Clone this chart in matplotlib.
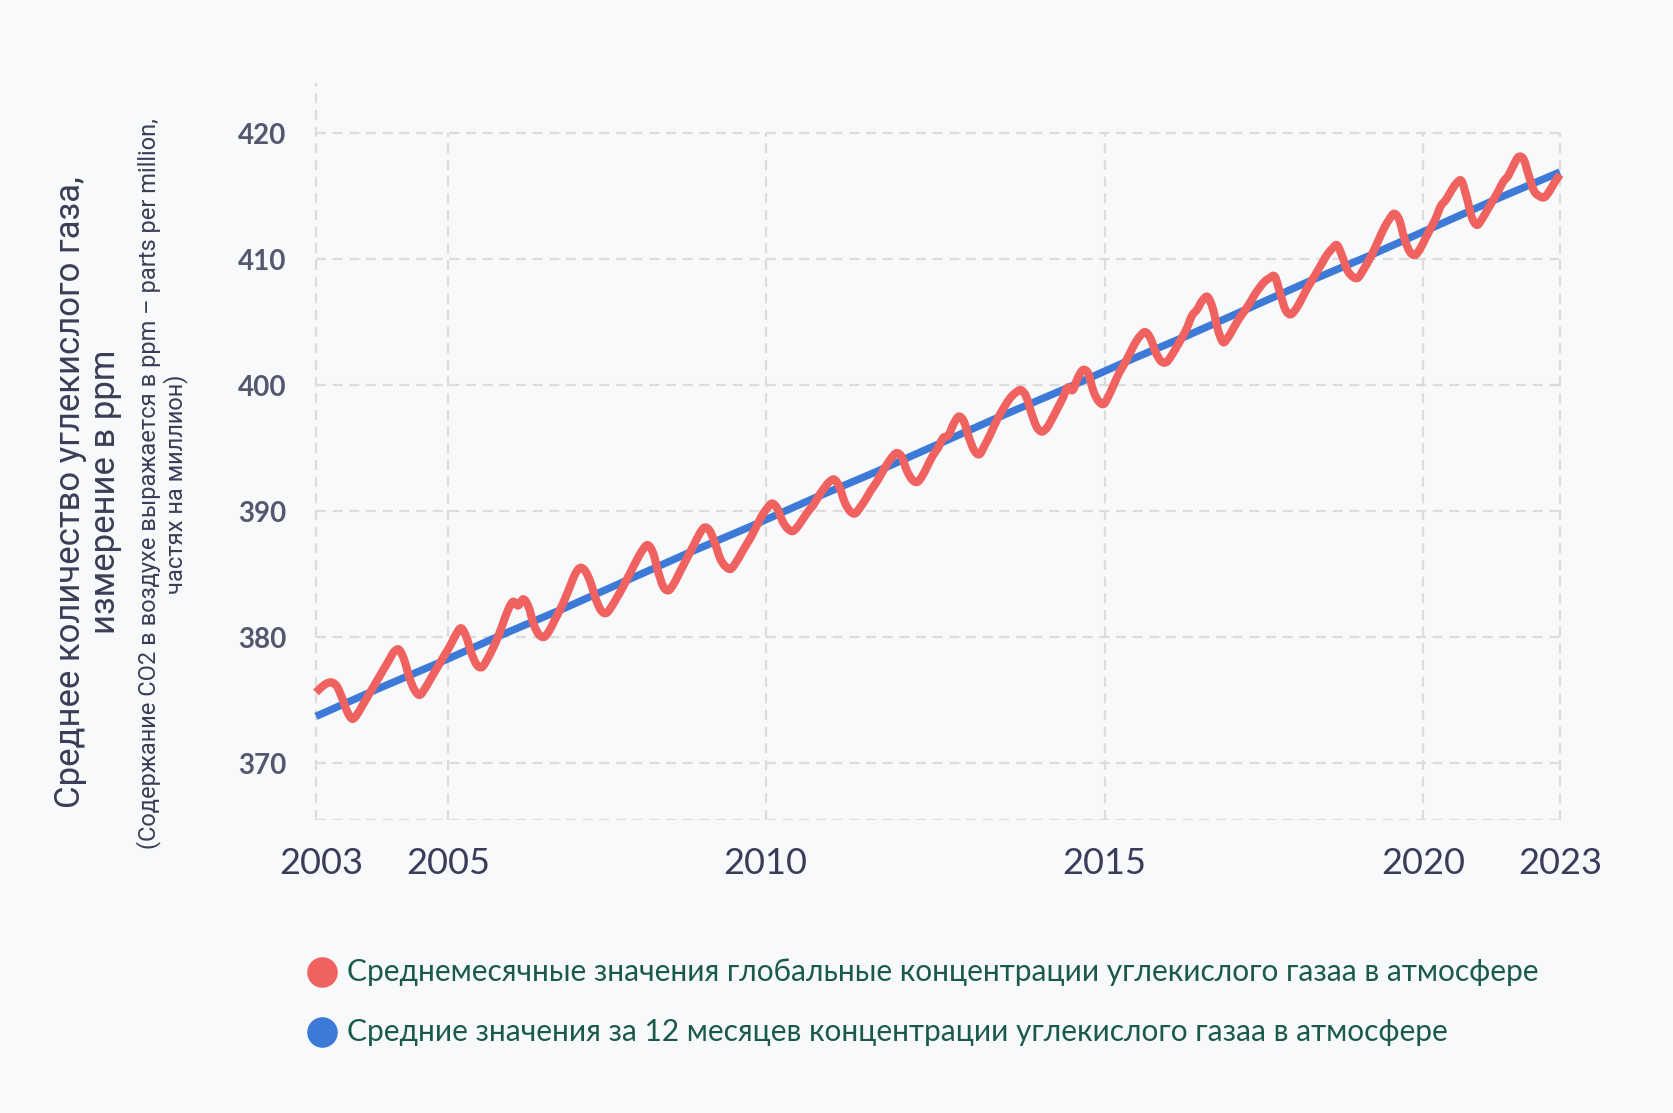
import matplotlib
matplotlib.use("Agg")
import matplotlib.pyplot as plt
import matplotlib.transforms as mtransforms
from matplotlib.lines import Line2D
from matplotlib.path import Path
from matplotlib.patches import PathPatch
import numpy as np

# monthly global CO2 (ppm), Jan..Dec
co2_2003 = [375.6, 376.0, 376.3, 376.4, 376.1, 375.2, 374.1, 373.5, 373.9, 374.6, 375.3, 376.0]
co2_2004 = [376.7, 377.4, 378.1, 378.8, 379.0, 378.2, 376.8, 375.8, 375.4, 375.9, 376.6, 377.3]
co2_2005 = [378.0, 378.7, 379.4, 380.2, 380.7, 380.0, 378.7, 377.8, 377.6, 378.2, 379.0, 379.9]
co2_2006 = [381.0, 382.1, 382.8, 382.5, 383.0, 382.4, 381.0, 380.2, 380.0, 380.5, 381.3, 382.1]
co2_2007 = [383.0, 384.0, 385.0, 385.5, 385.2, 384.3, 383.0, 382.1, 381.9, 382.4, 383.1, 383.8]
co2_2008 = [384.6, 385.4, 386.2, 386.9, 387.3, 386.7, 385.2, 384.0, 383.7, 384.2, 385.0, 385.8]
co2_2009 = [386.6, 387.4, 388.2, 388.7, 388.4, 387.4, 386.2, 385.6, 385.4, 385.9, 386.6, 387.3]
co2_2010 = [388.0, 388.8, 389.6, 390.2, 390.6, 390.2, 389.2, 388.6, 388.4, 388.8, 389.4, 390.0]
co2_2011 = [390.5, 391.2, 391.8, 392.3, 392.5, 391.9, 390.7, 390.0, 389.8, 390.3, 390.9, 391.6]
co2_2012 = [392.2, 392.9, 393.6, 394.2, 394.6, 394.3, 393.2, 392.5, 392.3, 392.8, 393.6, 394.4]
co2_2013 = [395.0, 395.8, 396.0, 396.9, 397.5, 397.1, 395.8, 394.8, 394.5, 395.2, 396.0, 396.9]
co2_2014 = [397.7, 398.4, 399.0, 399.4, 399.6, 399.1, 397.8, 396.7, 396.3, 396.6, 397.3, 398.1]
co2_2015 = [398.9, 399.8, 399.6, 400.6, 401.2, 400.9, 399.5, 398.7, 398.5, 399.2, 400.1, 401.0]
co2_2016 = [401.7, 402.5, 403.3, 403.9, 404.2, 403.7, 402.6, 401.9, 401.8, 402.3, 403.0, 403.7]
co2_2017 = [404.5, 405.5, 406.0, 406.7, 407.0, 406.1, 404.4, 403.4, 403.8, 404.5, 405.2, 405.8]
co2_2018 = [406.4, 407.1, 407.7, 408.2, 408.5, 408.6, 407.3, 406.0, 405.6, 406.0, 406.7, 407.5]
co2_2019 = [408.2, 408.9, 409.6, 410.3, 410.8, 411.1, 410.2, 409.1, 408.6, 408.5, 409.1, 409.8]
co2_2020 = [410.6, 411.5, 412.4, 413.1, 413.6, 413.1, 411.6, 410.6, 410.3, 410.8, 411.6, 412.4]
co2_2021 = [413.2, 414.2, 414.7, 415.4, 416.0, 416.2, 414.9, 413.3, 412.7, 413.2, 413.9, 414.6]
co2_2022 = [415.3, 416.1, 416.6, 417.4, 418.1, 417.9, 416.6, 415.4, 415.0, 414.9, 415.4, 416.1]
co2_2023 = [416.7]

# 12-month average trend, one value per January
trend_years = list(range(2003, 2024))
trend_vals = [373.7, 375.9, 378.0, 380.2, 382.3, 384.5, 386.7, 388.8, 391.0, 393.1, 395.3,
              397.5, 399.6, 401.8, 403.9, 406.1, 408.3, 410.4, 412.6, 414.8, 416.9]

# tick labels sit where the designer put them (not evenly spaced)
x_tick_pos = [2003.0, 2005.12, 2010.23, 2015.68, 2020.8, 2023.0]
x_tick_labels = ["2003", "2005", "2010", "2015", "2020", "2023"]
y_ticks = [370, 380, 390, 400, 410, 420]

label_red = "Среднемесячные значения глобальные концентрации углекислого газаа в атмосфере"
label_blue = "Средние значения за 12 месяцев концентрации углекислого газаа в атмосфере"
ylabel_main = "Среднее количество углекислого газа,\nизмерение в ppm"
ylabel_sub = "(Содержание CO2 в воздухе выражается в ppm – parts per million,\nчастях на миллион)"

monthly = (co2_2003 + co2_2004 + co2_2005 + co2_2006 + co2_2007 + co2_2008 + co2_2009
           + co2_2010 + co2_2011 + co2_2012 + co2_2013 + co2_2014 + co2_2015 + co2_2016
           + co2_2017 + co2_2018 + co2_2019 + co2_2020 + co2_2021 + co2_2022 + co2_2023)
months = 2003 + np.arange(len(monthly)) / 12

plt.rcParams["font.family"] = ["Lato", "DejaVu Sans"]
narrow = ["Roboto", "DejaVu Sans"]

bg = "#f8f9fb"
red = "#f0625f"
blue = "#3d7ad8"
grid_c = "#dcdcdc"

W, H = 1674, 1113
fig = plt.figure(figsize=(W / 100, H / 100), dpi=100, facecolor=bg)
ax = fig.add_axes([309.8 / W, 1 - 819.7 / H, (1572.4 - 309.8) / W, (819.7 - 82.6) / H])
ax.set_facecolor(bg)
ymin, ymax = 365.5, 424.0
ax.set_xlim(2002.9, 2023.2)
ax.set_ylim(ymin, ymax)

# dashed frame / grid
gkw = dict(colors=grid_c, linewidths=1.6, linestyles=(0, (4.5, 3)), zorder=1)
ax.hlines(y_ticks + [ymin], x_tick_pos[0], x_tick_pos[-1], **gkw)
ax.vlines(x_tick_pos[1:], ymin, y_ticks[-1], **gkw)
ax.vlines(x_tick_pos[0], ymin, ymax, **gkw)

ax.plot(trend_years, trend_vals, color=blue, lw=5.4, solid_capstyle="butt", zorder=3, clip_on=False)

# smooth curve through the monthly values (bezier segments, like the original's spline)
pts = np.column_stack([months, monthly])
n = len(pts)
verts = [pts[0]]
codes = [Path.MOVETO]
for i in range(n - 1):
    p0, p1, p2, p3 = pts[max(i - 1, 0)], pts[i], pts[i + 1], pts[min(i + 2, n - 1)]
    verts += [p1 + (p2 - p0) / 6, p2 - (p3 - p1) / 6, p2]
    codes += [Path.CURVE4] * 3
ax.add_patch(PathPatch(Path(verts, codes), fill=False, edgecolor=red, lw=5.9,
                       joinstyle="round", capstyle="butt", zorder=4, clip_on=False))

for s in ax.spines.values():
    s.set_visible(False)
ax.set_xticks(x_tick_pos, x_tick_labels)
ax.set_yticks(y_ticks)
ax.tick_params(axis="x", length=0, pad=20, labelsize=26, labelcolor="#3a3c5a")
ax.tick_params(axis="y", length=0, pad=17, labelsize=20, labelcolor="#55576f")
for t in ax.get_yticklabels():
    t.set_fontweight("bold")
# first year label sits a little right of its grid line in the original
first = ax.get_xticklabels()[0]
first.set_transform(first.get_transform() + mtransforms.ScaledTranslation(4 / 72, 0, fig.dpi_scale_trans))

fig.text(88 / W, 1 - 492 / H, ylabel_main, rotation=90, ha="center", va="center",
         multialignment="center", fontsize=25, color="#3b3d57", family=narrow, linespacing=1.1)
fig.text(162 / W, 1 - 484 / H, ylabel_sub, rotation=90, ha="center", va="center",
         multialignment="center", fontsize=17, color="#3b3d57", family=narrow, linespacing=1.15)

# legend drawn by hand to sit where the original puts it
for yy, col, txt in [(971.5, red, label_red), (1032, blue, label_blue)]:
    fig.add_artist(Line2D([322 / W], [1 - yy / H], marker="o", markersize=21, color=col,
                          linestyle="none", transform=fig.transFigure))
    fig.text(347 / W, 1 - yy / H, txt, ha="left", va="center", fontsize=21.5, color="#1a5a48")

fig.savefig("out.png", dpi=100, facecolor=bg)
